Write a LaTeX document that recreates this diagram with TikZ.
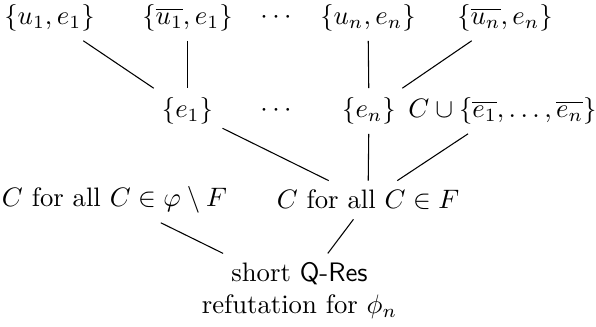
\documentclass[tikz,border=0pt]{standalone}
\begin{document}
\begin{tikzpicture}[x=0.37453pt,y=-0.37453pt]
\useasboundingbox (0,0) rectangle (596,327);
\tikzset{lbl/.style={inner sep=0.3333em}, edge/.style={draw,line width=0.4pt}}
\node[lbl] (n1) at (49.5,18) {$\{u_1,e_1\}$};
\node[lbl] (n2) at (187.5,18) {$\{\overline{u_1},e_1\}$};
\node[lbl] (d1) at (276,18) {$\cdots$};
\node[lbl] (n3) at (368,18) {$\{u_n,e_n\}$};
\node[lbl] (n4) at (505,18) {$\{\overline{u_n},e_n\}$};
\node[lbl] (m1) at (187.5,111) {$\{e_1\}$};
\node[lbl] (d2) at (276,111) {$\cdots$};
\node[lbl] (m2) at (369,111) {$\{e_n\}$};
\node[lbl] (m3) at (502.5,111) {$C\cup\{\overline{e_1},\ldots,\overline{e_n}\}$};
\node[lbl] (r1) at (114.5,200) {$C$ for all $C\in\varphi\setminus F$};
\node[lbl] (r2) at (368,200) {$C$ for all $C\in F$};
\node[lbl,align=center] (s) at (299.5,291) {short \textsf{Q-Res}\\refutation for $\phi_n$};
\draw[edge] (n1) -- (m1);
\draw[edge] (n2) -- (m1);
\draw[edge] (n3) -- (m2);
\draw[edge] (n4) -- (m2);
\draw[edge] (m1) -- (r2);
\draw[edge] (m2) -- (r2);
\draw[edge] (m3) -- (r2);
\draw[edge] (r1) -- (s);
\draw[edge] (r2) -- (s);
\end{tikzpicture}
\end{document}
